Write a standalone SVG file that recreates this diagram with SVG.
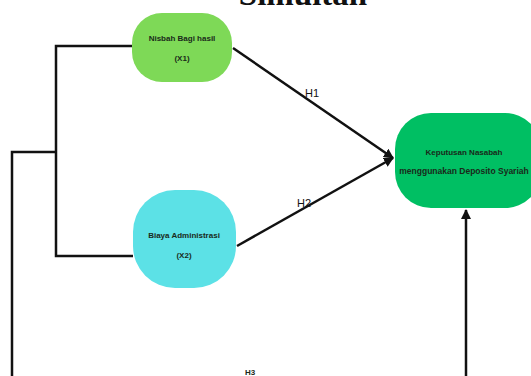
<svg xmlns="http://www.w3.org/2000/svg" width="531" height="376" viewBox="0 0 531 376">
<style>
.lbl{font-family:"Liberation Sans",Arial,sans-serif;font-size:8px;font-weight:bold;fill:#1a2a1a;text-anchor:middle}
.h{font-family:"Liberation Sans",Arial,sans-serif;font-size:11px;fill:#111;text-anchor:middle}
.c{fill:none;stroke:#111;stroke-width:2.5}
</style>
<defs>
<marker id="ah" viewBox="0 0 10 10" refX="9" refY="5" markerWidth="4" markerHeight="4" orient="auto" markerUnits="strokeWidth">
<path d="M0,0 L10,5 L0,10 z" fill="#111"/>
</marker>
</defs>
<rect width="531" height="376" fill="#fff"/>
<text x="303" y="5" font-family="'Liberation Serif',serif" font-size="33" font-weight="bold" text-anchor="middle" fill="#111">Simultan</text>
<g id="connectors">
<path class="c" d="M133,46 H56 V256 H133"/>
<path class="c" d="M56,152 H12 V376"/>
<path class="c" d="M466,376 V210" marker-end="url(#ah)"/>
<path class="c" d="M233,48 L393,158" marker-end="url(#ah)"/>
<path class="c" d="M237,246 L393,158" marker-end="url(#ah)"/>
<text class="h" x="312" y="97">H1</text>
<text class="h" x="304" y="207">H2</text>
<text class="lbl" x="250" y="375" font-weight="normal">H3</text>
</g>
<g id="x1">
<rect x="132" y="13" width="100" height="69" rx="30" fill="#7ED957"/>
<text class="lbl" x="182" y="41">Nisbah Bagi hasil</text>
<text class="lbl" x="182" y="61">(X1)</text>
</g>
<g id="x2">
<rect x="133" y="190" width="103" height="98" rx="42" fill="#5CE1E6"/>
<text class="lbl" x="184" y="238">Biaya Administrasi</text>
<text class="lbl" x="184" y="258">(X2)</text>
</g>
<g id="y">
<rect x="395" y="113" width="146" height="95" rx="36" fill="#00BF63"/>
<text class="lbl" x="464" y="155">Keputusan Nasabah</text>
<text class="lbl" x="464" y="174" style="font-size:8.5px">menggunakan Deposito Syariah</text>
</g>
</svg>
